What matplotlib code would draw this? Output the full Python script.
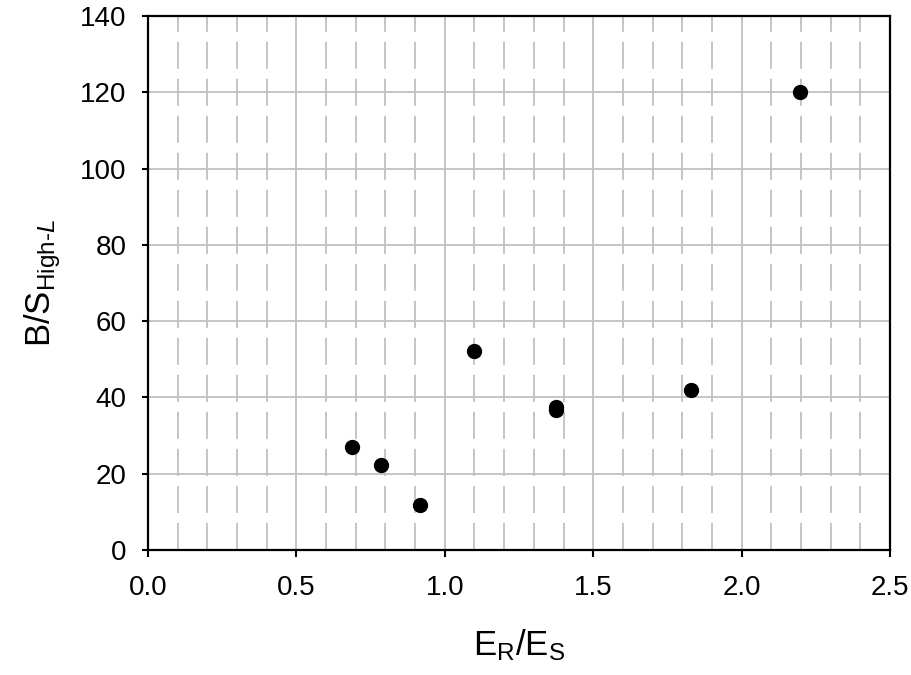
import matplotlib
matplotlib.use("Agg")
import matplotlib.pyplot as plt
import numpy as np
from matplotlib.ticker import MultipleLocator, FormatStrFormatter

er_es = [0.686, 0.785, 0.916, 1.098, 1.374, 1.376, 1.830, 2.197]
bs_high = [27.0, 22.3, 11.8, 52.3, 37.6, 36.7, 41.9, 120.1]

plt.rcParams['font.family'] = ['Liberation Sans', 'DejaVu Sans']
plt.rcParams['mathtext.fontset'] = 'custom'
plt.rcParams['mathtext.rm'] = 'Liberation Sans'
plt.rcParams['mathtext.it'] = 'Liberation Sans:italic'
plt.rcParams['mathtext.bf'] = 'Liberation Sans:bold'

fig = plt.figure(figsize=(9.12, 6.75), dpi=100)
ax = fig.add_axes([0.1623, 0.1852, 0.8136, 0.7911])

ax.set_xlim(0, 2.5)
ax.set_ylim(0, 140)
ax.xaxis.set_major_locator(MultipleLocator(0.5))
ax.xaxis.set_minor_locator(MultipleLocator(0.1))
ax.yaxis.set_major_locator(MultipleLocator(20))

ax.grid(True, which='major', color='#c0c0c0', linewidth=1.3)
ax.grid(True, which='minor', axis='x', color='#c0c0c0', linewidth=1.3,
        linestyle=(0, (15, 5.5)))
ax.set_axisbelow(True)

ax.scatter(er_es, bs_high, s=100, color='black', zorder=3)

ax.xaxis.set_major_formatter(FormatStrFormatter('%.1f'))
ax.tick_params(axis='y', which='major', direction='out', length=4.5, width=1.5,
               labelsize=20, pad=11, color='black')
ax.tick_params(axis='x', which='major', direction='out', length=5, width=1.5,
               labelsize=20, pad=13, color='black')
ax.tick_params(axis='x', which='minor', length=0)
for sp in ax.spines.values():
    sp.set_linewidth(1.6)
    sp.set_color('black')

ax.set_xlabel(r'E$_{\mathrm{R}}$/E$_{\mathrm{S}}$', fontsize=25, labelpad=19)
ax.set_ylabel(r'B/S$_{\text{High-}\mathit{L}}$', fontsize=25, labelpad=12)

fig.savefig('out.png', dpi=100)
